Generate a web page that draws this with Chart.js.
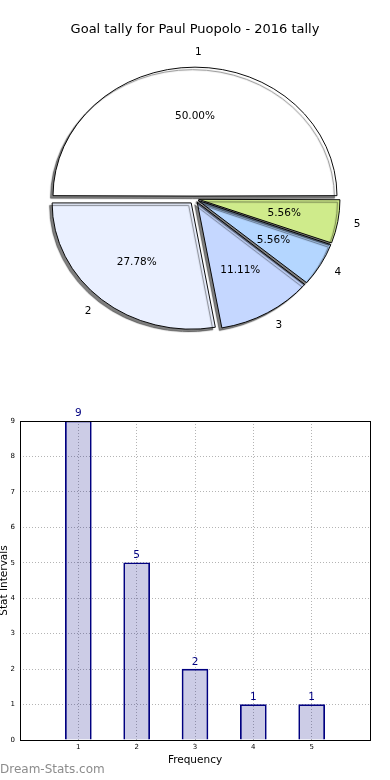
<!DOCTYPE html>
<html>
<head>
<meta charset="utf-8">
<title>Goal tally for Paul Puopolo - 2016 tally</title>
<script src="https://cdn.jsdelivr.net/npm/chart.js@4.4.1/dist/chart.umd.min.js"></script>
<style>
  body { margin: 0; background: #fff; }
  #wrap { position: relative; width: 390px; height: 780px; overflow: hidden; }
  #pieChart { position: absolute; left: 0; top: 0; }
  #barChart { position: absolute; left: 0; top: 370px; }
  #mark { position: absolute; left: 0; top: 762px; font: 12px "DejaVu Sans"; color: #8c8c8c; }
</style>
</head>
<body>
<div id="wrap">
  <canvas id="pieChart" width="390" height="380"></canvas>
  <canvas id="barChart" width="390" height="410"></canvas>
  <div id="mark">Dream-Stats.com</div>
</div>
<script>
// ======== Data ========
const chartTitle = 'Goal tally for Paul Puopolo - 2016 tally';
const sliceLabels = ['1', '2', '3', '4', '5'];
const sliceValues = [9, 5, 2, 1, 1];
const sliceColors = ['#ffffff', '#eaf0ff', '#c5d7ff', '#b4d6ff', '#cfeb8b'];

const freqCategories = [1, 2, 3, 4, 5];
const barCounts = [9, 5, 2, 1, 1];
const xTickValues = [1, 2, 3, 4, 5];
const yTickValues = [0, 1, 2, 3, 4, 5, 6, 7, 8, 9];

// ======== Pie settings ========
const FONT = '"DejaVu Sans", sans-serif';
const PIE_R = 139;            // base radius (horizontal)
const ELLIPSE_Y = 128 / 141;  // matplotlib axes were not square
const EXPLODE = 6;            // px each wedge is pushed out
const total = sliceValues.reduce((a, b) => a + b, 0);

// chart.js moves an arc by offset/4 * (1 + fix); undo that so every wedge moves EXPLODE px
function explodeOffset(c) {
  const ang = sliceValues[c.dataIndex] / total * 2 * Math.PI;
  const fix = 1 - Math.sin(Math.min(Math.PI, ang));
  return 4 * EXPLODE / (1 + fix);
}

const pieShape = {
  id: 'pieShape',
  beforeDatasetsDraw(chart) {
    const el = chart.getDatasetMeta(0).data[0];
    const ctx = chart.ctx;
    ctx.save();
    // mirror so wedges run counter-clockwise, squash into an ellipse
    ctx.translate(el.x, el.y);
    ctx.scale(-1, ELLIPSE_Y);
    ctx.translate(-el.x, -el.y);
    ctx.shadowColor = 'rgba(0,0,0,0.5)';
    ctx.shadowBlur = 1;
    ctx.shadowOffsetX = -2.5;
    ctx.shadowOffsetY = 2.5;
  },
  afterDatasetsDraw(chart) {
    const ctx = chart.ctx;
    ctx.restore();
    const meta = chart.getDatasetMeta(0);
    ctx.save();
    ctx.fillStyle = '#000';
    ctx.textBaseline = 'middle';
    meta.data.forEach((arc, i) => {
      const h = (arc.startAngle + arc.endAngle) / 2;
      const pos = (dist) => ({
        x: arc.x - Math.cos(h) * (EXPLODE + dist * 141),
        y: arc.y + Math.sin(h) * (EXPLODE + dist * 141) * ELLIPSE_Y
      });
      const lab = pos(1.1);
      ctx.font = '10.5px ' + FONT;
      ctx.textAlign = (lab.x - arc.x) >= -0.01 ? 'left' : 'right';
      ctx.fillText(sliceLabels[i], lab.x, lab.y);
      const pct = pos(0.6);
      ctx.textAlign = 'center';
      ctx.fillText((sliceValues[i] / total * 100).toFixed(2) + '%', pct.x, pct.y);
    });
    ctx.restore();
  }
};

new Chart(document.getElementById('pieChart'), {
  type: 'pie',
  data: {
    labels: sliceLabels,
    datasets: [{
      data: sliceValues,
      backgroundColor: sliceColors,
      borderColor: '#000',
      borderWidth: 1,
      offset: explodeOffset,
      clip: false
    }]
  },
  options: {
    responsive: false,
    animation: false,
    radius: PIE_R,
    rotation: -90,
    layout: { padding: { bottom: 30 } },
    plugins: {
      legend: { display: false },
      tooltip: { enabled: false },
      title: {
        display: true,
        text: chartTitle,
        color: '#000',
        font: { family: FONT, size: 13, weight: 'normal' },
        padding: { top: 22, bottom: 10 }
      }
    }
  },
  plugins: [pieShape]
});

// ======== Bar chart ========
const barExtras = {
  id: 'barExtras',
  afterDatasetsDraw(chart) {
    const ctx = chart.ctx;
    const a = chart.chartArea;
    ctx.save();
    // value labels
    ctx.fillStyle = '#000080';
    ctx.font = '10.5px ' + FONT;
    ctx.textAlign = 'center';
    ctx.textBaseline = 'bottom';
    chart.getDatasetMeta(0).data.forEach((bar, i) => {
      ctx.fillText(String(barCounts[i]), bar.x, bar.y - 2);
    });
    // axes frame
    ctx.strokeStyle = '#000';
    ctx.lineWidth = 1;
    ctx.strokeRect(Math.round(a.left) + 0.5, Math.round(a.top) + 0.5,
      Math.round(a.right - a.left), Math.round(a.bottom - a.top));
    ctx.restore();
  }
};

const gridOpts = { color: '#b4b4b4', lineWidth: 1, drawTicks: false, offset: false };

new Chart(document.getElementById('barChart'), {
  type: 'bar',
  data: {
    datasets: [{
      data: freqCategories.map((f, i) => ({ x: f, y: barCounts[i] })),
      backgroundColor: 'rgba(0,0,128,0.2)',
      borderColor: '#000080',
      borderWidth: 1,
      barThickness: 26
    }]
  },
  options: {
    responsive: false,
    animation: false,
    layout: { padding: { top: 51, right: 20, left: 0, bottom: 0 } },
    plugins: { legend: { display: false }, tooltip: { enabled: false } },
    scales: {
      x: {
        type: 'linear',
        offset: false,
        min: 0,
        max: 6,
        afterBuildTicks: (s) => { s.ticks = xTickValues.map(v => ({ value: v })); },
        afterFit: (s) => { s.height = 40; },
        grid: gridOpts,
        border: { display: false, dash: [1, 2] },
        ticks: { color: '#000', font: { family: FONT, size: 7 }, padding: 3 },
        title: {
          display: true, text: 'Frequency', color: '#000',
          font: { family: FONT, size: 10.5 }, padding: { top: 0, bottom: 13 }
        }
      },
      y: {
        min: 0,
        max: 9,
        afterBuildTicks: (s) => { s.ticks = yTickValues.map(v => ({ value: v })); },
        afterFit: (s) => { s.width = 20; },
        grid: gridOpts,
        border: { display: false, dash: [1, 2] },
        ticks: { color: '#000', font: { family: FONT, size: 7 }, padding: 5 },
        title: {
          display: true, text: 'Stat Intervals', color: '#000',
          font: { family: FONT, size: 10.5 }, padding: { top: -2, bottom: 0 }
        }
      }
    }
  },
  plugins: [barExtras]
});
</script>
</body>
</html>
